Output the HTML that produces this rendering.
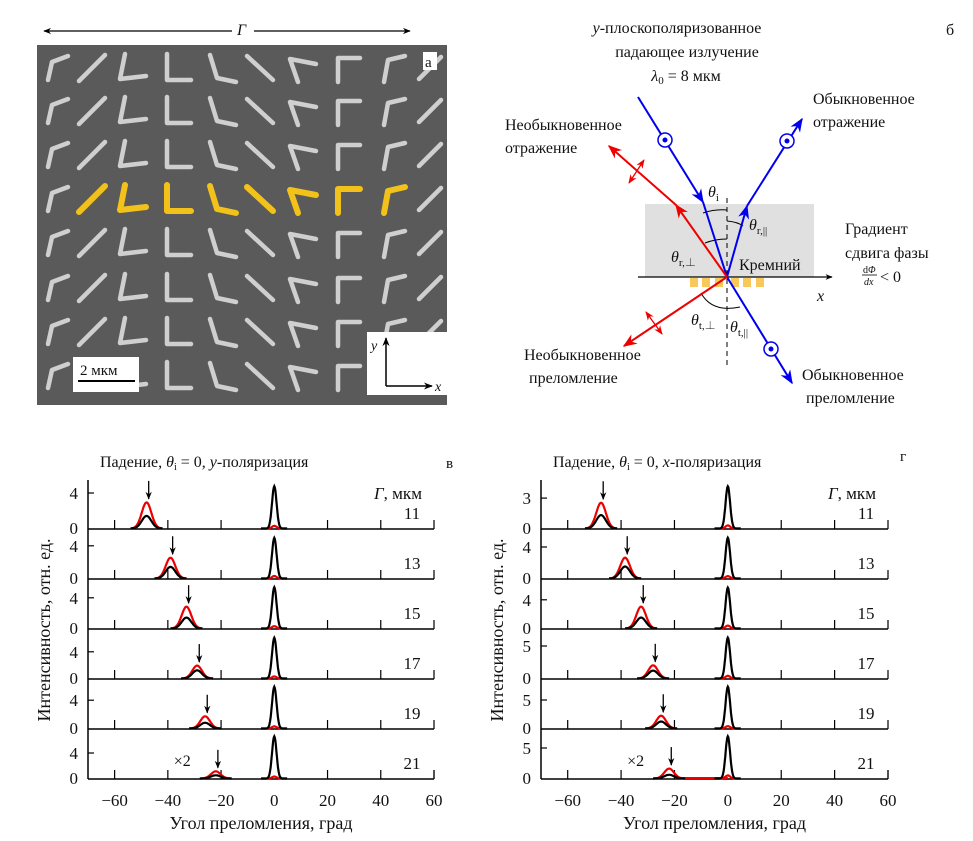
<!DOCTYPE html>
<html><head><meta charset="utf-8"><style>
html,body{margin:0;padding:0;background:#fff}
svg{display:block;font-family:"Liberation Serif","Noto Serif CJK SC",serif}
text{fill:#111}
</style></head><body>
<svg id="root" width="973" height="841" viewBox="0 0 973 841" xmlns="http://www.w3.org/2000/svg">
<defs>
<marker id="ab" viewBox="0 0 10 10" refX="9" refY="5" markerWidth="7" markerHeight="7" orient="auto-start-reverse"><path d="M0,1 L10,5 L0,9 L3,5Z" fill="#0000ee"/></marker>
<marker id="ar" viewBox="0 0 10 10" refX="9" refY="5" markerWidth="7" markerHeight="7" orient="auto-start-reverse"><path d="M0,1 L10,5 L0,9 L3,5Z" fill="#ee0000"/></marker>
<marker id="ak" viewBox="0 0 10 10" refX="9" refY="5" markerWidth="6" markerHeight="6" orient="auto-start-reverse"><path d="M0,1 L10,5 L0,9 L3,5Z" fill="#000"/></marker>
</defs>

<g>
<line x1="44" y1="31" x2="232" y2="31" stroke="#000" stroke-width="1.3" marker-start="url(#ak)"/>
<line x1="254" y1="31" x2="410" y2="31" stroke="#000" stroke-width="1.3" marker-end="url(#ak)"/>
<text x="237" y="35" font-size="16" font-style="italic">Γ</text>
<rect x="37" y="45" width="410" height="360" fill="#5a5a5a"/>
<g id="antennas"></g>
<rect x="423" y="52" width="14" height="18" fill="#fff"/>
<text x="425" y="67" font-size="15">a</text>
<rect x="73" y="357" width="66" height="35" fill="#fff"/>
<text x="80" y="375" font-size="15">2 мкм</text>
<line x1="78" y1="381" x2="135" y2="381" stroke="#000" stroke-width="2"/>
<rect x="367" y="332" width="80" height="63" fill="#fff"/>
<line x1="386" y1="386" x2="386" y2="338" stroke="#000" stroke-width="1.5" marker-end="url(#ak)"/>
<line x1="386" y1="386" x2="432" y2="386" stroke="#000" stroke-width="1.5" marker-end="url(#ak)"/>
<text x="371" y="350" font-size="14" font-style="italic">y</text>
<text x="435" y="391" font-size="14" font-style="italic">x</text>
</g>

<g font-size="16">
<text x="677" y="33" text-anchor="middle"><tspan font-style="italic">y</tspan>-плоскополяризованное</text>
<text x="687" y="57" text-anchor="middle">падающее излучение</text>
<text x="686" y="81" text-anchor="middle"><tspan font-style="italic">λ</tspan><tspan font-size="11" dy="3">0</tspan><tspan dy="-3"> = 8 мкм</tspan></text>
<text x="946" y="35">б</text>
<rect x="645" y="204" width="169" height="73" fill="#e0e0e0"/>
<g fill="#f9c85a">
<rect x="690" y="278" width="8" height="9"/><rect x="702" y="278" width="8" height="9"/><rect x="715" y="278" width="8" height="9"/><rect x="731" y="278" width="8" height="9"/><rect x="743" y="278" width="8" height="9"/><rect x="756" y="278" width="8" height="9"/></g>
<line x1="638" y1="277" x2="832" y2="277" stroke="#000" stroke-width="1.2" marker-end="url(#ak)"/>
<text x="817" y="301" font-style="italic">x</text>
<line x1="727" y1="198" x2="727" y2="365" stroke="#000" stroke-width="1" stroke-dasharray="5,4"/>
<path d="M703,213 Q715,209 727,210" fill="none" stroke="#000"/>
<path d="M727,221 Q738,222 743,226" fill="none" stroke="#000"/>
<path d="M705,243 Q715,239 727,239" fill="none" stroke="#000"/>
<path d="M701,293 Q712,313 740,307" fill="none" stroke="#000"/>
<line x1="638" y1="97" x2="703" y2="202" stroke="#0000ee" stroke-width="2" marker-end="url(#ab)"/>
<line x1="703" y1="202" x2="727" y2="277" stroke="#0000ee" stroke-width="2"/>
<line x1="727" y1="277" x2="747" y2="206" stroke="#0000ee" stroke-width="2" marker-end="url(#ab)"/>
<line x1="747" y1="206" x2="802" y2="119" stroke="#0000ee" stroke-width="2" marker-end="url(#ab)"/>
<line x1="727" y1="277" x2="792" y2="383" stroke="#0000ee" stroke-width="2" marker-end="url(#ab)"/>
<line x1="727" y1="277" x2="676" y2="205" stroke="#ee0000" stroke-width="2" marker-end="url(#ar)"/>
<line x1="676" y1="205" x2="609" y2="146" stroke="#ee0000" stroke-width="2" marker-end="url(#ar)"/>
<line x1="727" y1="277" x2="624" y2="346" stroke="#ee0000" stroke-width="2" marker-end="url(#ar)"/>
<line x1="644" y1="160" x2="629" y2="183" stroke="#ee0000" stroke-width="1.3" marker-start="url(#ar)" marker-end="url(#ar)"/>
<line x1="646" y1="312" x2="662" y2="334" stroke="#ee0000" stroke-width="1.3" marker-start="url(#ar)" marker-end="url(#ar)"/>
<g fill="#fff" stroke="#0000ee" stroke-width="1.5">
<circle cx="665" cy="140" r="7"/><circle cx="787" cy="141" r="7"/><circle cx="771" cy="349" r="7"/></g>
<g fill="#0000ee"><circle cx="665" cy="140" r="2.5"/><circle cx="787" cy="141" r="2.5"/><circle cx="771" cy="349" r="2.5"/></g>
<text x="708" y="197" font-style="italic">θ<tspan font-style="normal" font-size="11" dy="4">i</tspan></text>
<text x="749" y="230" font-style="italic">θ<tspan font-style="normal" font-size="11" dy="4">r,||</tspan></text>
<text x="671" y="262" font-style="italic">θ<tspan font-style="normal" font-size="11" dy="4">r,⊥</tspan></text>
<text x="739" y="270">Кремний</text>
<text x="691" y="325" font-style="italic">θ<tspan font-style="normal" font-size="11" dy="4">t,⊥</tspan></text>
<text x="730" y="332" font-style="italic">θ<tspan font-style="normal" font-size="11" dy="4">t,||</tspan></text>
<text x="813" y="104">Обыкновенное</text>
<text x="813" y="127">отражение</text>
<text x="505" y="130">Необыкновенное</text>
<text x="505" y="153">отражение</text>
<text x="845" y="234">Градиент</text>
<text x="845" y="258">сдвига фазы</text>
<text x="863" y="273" font-size="10">d<tspan font-style="italic">Φ</tspan></text>
<line x1="862" y1="275" x2="877" y2="275" stroke="#000" stroke-width="0.8"/>
<text x="864" y="285" font-size="10" font-style="italic">dx</text>
<text x="880" y="282">&lt; 0</text>
<text x="524" y="360">Необыкновенное</text>
<text x="529" y="383">преломление</text>
<text x="802" y="380">Обыкновенное</text>
<text x="806" y="403">преломление</text>
</g>

<text x="100" y="467" font-size="16">Падение, <tspan font-style="italic">θ</tspan><tspan font-size="10" dy="3">i</tspan><tspan dy="-3"> = 0, </tspan><tspan font-style="italic">y</tspan>-поляризация</text>
<text x="446" y="468" font-size="15">в</text>
<text x="553" y="467" font-size="16">Падение, <tspan font-style="italic">θ</tspan><tspan font-size="10" dy="3">i</tspan><tspan dy="-3"> = 0, </tspan><tspan font-style="italic">x</tspan>-поляризация</text>
<text x="900" y="461" font-size="15">г</text>
<g id="charts"></g>
</svg>
<script>
const periods = [11, 13, 15, 17, 19, 21];
const leftCenters = [-48, -39, -33, -29, -26, -22];
const leftRed = [2.9, 2.5, 2.8, 1.9, 1.7, 1.1];
const leftBlack = [1.4, 1.4, 1.4, 1.2, 0.8, 0.5];
const leftCentral = [4.7, 4.9, 5.3, 6.0, 5.8, 6.5];
const leftCentralRed = [0.3, 0.3, 0.3, 0.3, 0.3, 0.3];
const leftTickVals = [4, 4, 4, 4, 4, 4];
const rightCenters = [-47.5, -38.5, -32.5, -28, -25, -22];
const rightRed = [2.5, 2.6, 3.0, 2.0, 2.2, 1.6];
const rightBlack = [1.3, 1.5, 1.5, 1.2, 1.2, 0.6];
const rightCentral = [4.1, 5.1, 5.6, 6.2, 7.2, 6.8];
const rightCentralRed = [0.3, 0.3, 0.4, 0.4, 0.4, 0.5];
const rightTickVals = [3, 4, 4, 5, 5, 5];
const xTicks = [-60, -40, -20, 0, 20, 40, 60];
const leftPPU = [9, 8.3, 7.8, 6.8, 7.2, 6.5];
const rightPPU = [10.3, 8, 7.3, 6.6, 5.8, 6.2];

const NS = 'http://www.w3.org/2000/svg';
function mk(tag, attrs, parent) {
  const e = document.createElementNS(NS, tag);
  for (const k in attrs) e.setAttribute(k, attrs[k]);
  parent.appendChild(e);
  return e;
}

const ant = document.getElementById('antennas');
const colX = [57, 92, 132, 177, 222, 260, 302, 347, 392, 430];
const rowY = [68, 111, 155, 199, 243, 288, 332, 376];
const shapes = [
  [[-9,12],[-5,-6],[11,-12]],
  [[-13,13],[13,-13]],
  [[-7,-14],[-12,11],[14,8]],
  [[-10,-14],[-10,12],[14,12]],
  [[-12,-13],[-5,10],[14,14]],
  [[-13,-12],[13,12]],
  [[-4,14],[-12,-9],[14,-4]],
  [[-9,14],[-9,-10],[13,-10]],
  [[-8,14],[-4,-8],[13,-12]],
  [[-11,11],[11,-11]]
];
rowY.forEach((y, r) => {
  colX.forEach((x, c) => {
    const yel = r === 3 && c >= 1 && c <= 8;
    const pts = shapes[c].map(p => (x + p[0]) + ',' + (y + p[1])).join(' ');
    const pl = mk('polyline', {points: pts, fill: 'none', stroke: yel ? '#f2c21a' : '#cfcfcf', 'stroke-width': yel ? 6 : 4.5, 'stroke-linecap': 'round', 'stroke-linejoin': 'round'}, ant);
    
    
  });
});

const charts = document.getElementById('charts');
const baselines = [529, 579, 629, 679, 729, 779];
function gauss(x, c, s) { return Math.exp(-((x - c) * (x - c)) / (2 * s * s)); }

function drawChart(cfg) {
  const g = mk('g', {}, charts);
  
  
  const xS = v => cfg.x0 + (v - (-70)) * (cfg.x1 - cfg.x0) / 130;
  const fr = mk('line', {x1: cfg.x0, y1: 480, x2: cfg.x0, y2: 779, stroke: '#000', 'stroke-width': 1.5}, g);
  
  
  periods.forEach((p, i) => {
    const b = baselines[i];
    const ppu = cfg.ppu[i];
    const yS = v => b - v * ppu;
    const pg = mk('g', {}, g);
    
    
    const bl = mk('line', {x1: cfg.x0, y1: b, x2: cfg.x1, y2: b, stroke: '#000', 'stroke-width': 1.5}, pg);
    
    
    xTicks.forEach(t => {
      if (t === 0) return;
      const tk = mk('line', {x1: xS(t), y1: b, x2: xS(t), y2: b - 9, stroke: '#000', 'stroke-width': 1.2}, pg);
      
      
    });
    const yt = mk('line', {x1: cfg.x0, y1: yS(cfg.ticks[i]), x2: cfg.x0 + 6, y2: yS(cfg.ticks[i]), stroke: '#000', 'stroke-width': 1.2}, pg);
    
    
    const tl = mk('text', {x: cfg.x0 - 10, y: yS(cfg.ticks[i]) + 6, 'font-size': 17, 'text-anchor': 'end'}, pg);
    tl.textContent = cfg.ticks[i];
    
    
    const zl = mk('text', {x: cfg.x0 - 10, y: b + 5, 'font-size': 17, 'text-anchor': 'end'}, pg);
    zl.textContent = '0';
    
    
    const c = cfg.centers[i];
    function curve(vals, col, name, width) {
      let d = '';
      for (let x = -6; x <= 6; x += 0.25) {
        const v = vals.side * gauss(c + x, c, 1.8);
        d += (d ? 'L' : 'M') + xS(c + x).toFixed(1) + ',' + (yS(v) - 0.5).toFixed(1);
      }
      let d2 = '';
      for (let x = -5; x <= 5; x += 0.2) {
        const v = vals.center * gauss(x, 0, 0.85);
        d2 += (d2 ? 'L' : 'M') + xS(x).toFixed(1) + ',' + (yS(v) - 0.5).toFixed(1);
      }
      const p1 = mk('path', {d: d, fill: 'none', stroke: col, 'stroke-width': width}, pg);
      
      
      const p2 = mk('path', {d: d2, fill: 'none', stroke: col, 'stroke-width': width}, pg);
      
      
    }
    if (cfg.flat && i === 5) {
      const fl = mk('line', {x1: xS(-17), y1: b - 1, x2: xS(0), y2: b - 1, stroke: '#ee0000', 'stroke-width': 2}, pg);
      
      
    }
    curve({side: cfg.red[i], center: cfg.cred[i]}, '#ee0000', 'red', 2.2);
    curve({side: cfg.black[i], center: cfg.central[i]}, '#000', 'black', 2.2);
    const top = yS(cfg.red[i]);
    const ar = mk('line', {x1: xS(c + 0.8), y1: top - 22, x2: xS(c + 0.8), y2: top - 4, stroke: '#000', 'stroke-width': 1.3, 'marker-end': 'url(#ak)'}, pg);
    
    
    const pl = mk('text', {x: cfg.x1 - 22, y: b - 10, 'font-size': 17, 'text-anchor': 'middle'}, pg);
    pl.textContent = p;
    
    
    if (i === 5) {
      const x2 = mk('text', {x: xS(c) - 42, y: b - 13, 'font-size': 16}, pg);
      x2.textContent = '×2';
      
      
    }
  });
  const rt = mk('line', {x1: cfg.x1, y1: 770, x2: cfg.x1, y2: 779, stroke: '#000', 'stroke-width': 1.2}, g);
  xTicks.forEach(t => {
    const l = mk('text', {x: xS(t), y: 806, 'font-size': 17, 'text-anchor': 'middle'}, g);
    l.textContent = t < 0 ? '−' + (-t) : String(t);
    
    
  });
  const gt = mk('text', {x: cfg.x1 - 60, y: 499, 'font-size': 17}, g);
  gt.innerHTML = '<tspan font-style="italic">Γ</tspan>, мкм';
  
  
  const xt = mk('text', {x: (cfg.x0 + cfg.x1) / 2, y: 829, 'font-size': 18, 'text-anchor': 'middle'}, g);
  xt.textContent = 'Угол преломления, град';
  
  
  const yt = mk('text', {x: 0, y: 0, 'font-size': 18, 'text-anchor': 'middle', transform: 'translate(' + (cfg.x0 - 38) + ',630) rotate(-90)'}, g);
  yt.textContent = 'Интенсивность, отн. ед.';
  
  
}
drawChart({name: 'chart-v', x0: 88, x1: 434, centers: leftCenters, red: leftRed, black: leftBlack, central: leftCentral, cred: leftCentralRed, ticks: leftTickVals, ppu: leftPPU, flat: false});
drawChart({name: 'chart-g', x0: 541, x1: 888, centers: rightCenters, red: rightRed, black: rightBlack, central: rightCentral, cred: rightCentralRed, ticks: rightTickVals, ppu: rightPPU, flat: true});
</script>
</body></html>
